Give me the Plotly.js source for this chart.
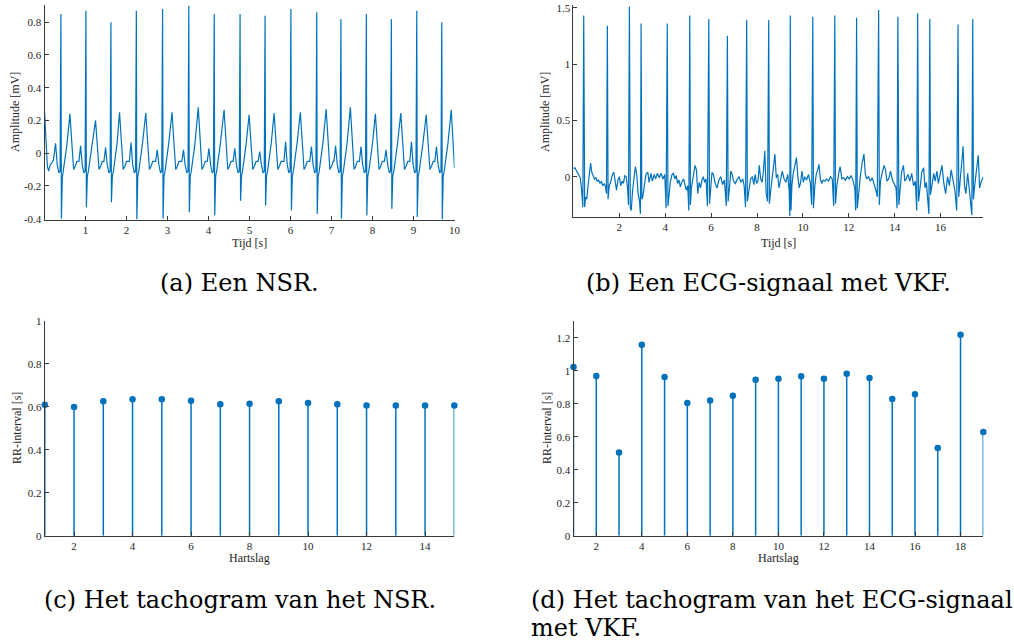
<!DOCTYPE html>
<html>
<head>
<meta charset="utf-8">
<script src="https://cdn.plot.ly/plotly-3.0.1.min.js"></script>
<style>
  html, body { margin: 0; padding: 0; background: #ffffff; }
  #fig { width: 1014px; height: 644px; }
</style>
</head>
<body>
<div id="fig"></div>
<script>
// Normaal sinusritme: [tijd (s), amplitude (mV)]
const nsrSamples = [
  [0.00,0.26],[0.03,0.12],[0.07,-0.08],[0.10,-0.11],[0.14,-0.07],[0.18,-0.06],[0.22,-0.04],[0.27,0.06],[0.31,-0.07],[0.35,-0.12],[0.38,-0.11],
  [0.40,0.85],[0.412,-0.40],[0.435,-0.15],[0.46,-0.11],[0.50,-0.05],[0.55,0.06],[0.62,0.24],[0.66,0.07],[0.71,-0.10],[0.75,-0.08],[0.79,-0.05],
  [0.84,-0.05],[0.88,0.045],[0.92,-0.07],[0.96,-0.12],[0.99,-0.11],[1.01,0.87],[1.022,-0.33],[1.045,-0.14],[1.07,-0.11],[1.11,-0.04],[1.16,0.05],[1.245,0.20],[1.285,0.06],[1.33,-0.10],[1.37,-0.08],[1.41,-0.05],
  [1.45,-0.05],[1.49,0.035],[1.53,-0.07],[1.57,-0.12],[1.60,-0.11],[1.62,0.80],[1.632,-0.30],[1.655,-0.14],[1.68,-0.11],[1.72,-0.04],[1.77,0.06],[1.83,0.25],[1.87,0.07],[1.92,-0.10],[1.96,-0.08],[2.00,-0.05],
  [2.07,-0.05],[2.11,0.065],[2.15,-0.07],[2.19,-0.12],[2.22,-0.11],[2.24,0.87],[2.252,-0.405],[2.275,-0.14],[2.30,-0.11],[2.34,-0.04],[2.39,0.06],[2.47,0.245],[2.51,0.07],[2.56,-0.10],[2.60,-0.08],[2.64,-0.05],
  [2.71,-0.05],[2.75,0.02],[2.79,-0.07],[2.83,-0.12],[2.86,-0.11],[2.88,0.88],[2.892,-0.40],[2.915,-0.14],[2.94,-0.11],[2.98,-0.04],[3.03,0.06],[3.11,0.25],[3.15,0.07],[3.20,-0.10],[3.24,-0.08],[3.28,-0.05],
  [3.35,-0.05],[3.39,0.02],[3.43,-0.07],[3.47,-0.12],[3.50,-0.11],[3.52,0.90],[3.532,-0.36],[3.555,-0.14],[3.58,-0.11],[3.62,-0.04],[3.67,0.06],[3.75,0.28],[3.79,0.08],[3.84,-0.10],[3.88,-0.08],[3.92,-0.05],
  [3.97,-0.05],[4.01,0.03],[4.05,-0.07],[4.09,-0.12],[4.12,-0.11],[4.14,0.85],[4.152,-0.38],[4.175,-0.14],[4.20,-0.11],[4.24,-0.04],[4.29,0.06],[4.38,0.265],[4.42,0.08],[4.47,-0.10],[4.51,-0.08],[4.55,-0.05],
  [4.60,-0.05],[4.64,0.03],[4.68,-0.07],[4.72,-0.12],[4.75,-0.11],[4.77,0.85],[4.782,-0.29],[4.805,-0.14],[4.83,-0.11],[4.87,-0.04],[4.92,0.06],[4.99,0.235],[5.03,0.07],[5.08,-0.10],[5.12,-0.08],[5.16,-0.05],
  [5.21,-0.05],[5.25,0.01],[5.29,-0.07],[5.33,-0.12],[5.36,-0.11],[5.38,0.84],[5.392,-0.32],[5.415,-0.14],[5.44,-0.11],[5.48,-0.04],[5.53,0.06],[5.60,0.245],[5.64,0.07],[5.69,-0.10],[5.73,-0.08],[5.77,-0.05],
  [5.84,-0.05],[5.88,0.07],[5.92,-0.07],[5.96,-0.12],[5.99,-0.11],[6.01,0.88],[6.022,-0.35],[6.045,-0.14],[6.07,-0.11],[6.11,-0.04],[6.16,0.06],[6.24,0.25],[6.28,0.07],[6.33,-0.10],[6.37,-0.08],[6.41,-0.05],
  [6.47,-0.05],[6.51,0.04],[6.55,-0.07],[6.59,-0.12],[6.62,-0.11],[6.64,0.86],[6.652,-0.37],[6.675,-0.14],[6.70,-0.11],[6.74,-0.04],[6.79,0.06],[6.87,0.27],[6.91,0.08],[6.96,-0.10],[7.00,-0.08],[7.04,-0.05],
  [7.06,-0.05],[7.10,0.045],[7.14,-0.07],[7.18,-0.12],[7.21,-0.11],[7.23,0.82],[7.242,-0.40],[7.265,-0.14],[7.29,-0.11],[7.33,-0.04],[7.38,0.06],[7.46,0.28],[7.50,0.08],[7.55,-0.10],[7.59,-0.08],[7.63,-0.05],
  [7.68,-0.05],[7.72,0.04],[7.76,-0.07],[7.80,-0.12],[7.83,-0.11],[7.85,0.85],[7.862,-0.38],[7.885,-0.14],[7.91,-0.11],[7.95,-0.04],[8.00,0.06],[8.07,0.24],[8.11,0.07],[8.16,-0.10],[8.20,-0.08],[8.24,-0.05],
  [8.29,-0.05],[8.33,0.02],[8.37,-0.07],[8.41,-0.12],[8.44,-0.11],[8.46,0.82],[8.472,-0.34],[8.495,-0.14],[8.52,-0.11],[8.56,-0.04],[8.61,0.06],[8.69,0.245],[8.73,0.07],[8.78,-0.10],[8.82,-0.08],[8.86,-0.05],
  [8.91,-0.05],[8.95,0.07],[8.99,-0.07],[9.03,-0.12],[9.06,-0.11],[9.08,0.87],[9.092,-0.39],[9.115,-0.14],[9.14,-0.11],[9.18,-0.04],[9.23,0.06],[9.31,0.235],[9.35,0.07],[9.40,-0.10],[9.44,-0.08],[9.48,-0.05],
  [9.52,-0.05],[9.56,0.04],[9.60,-0.07],[9.64,-0.12],[9.67,-0.11],[9.69,0.80],[9.702,-0.405],[9.725,-0.14],[9.75,-0.11],[9.79,-0.04],[9.84,0.06],[9.92,0.265],[9.96,0.08],[10.00,-0.09]
];

// ECG met ventrikelfibrillatie: [tijd (s), amplitude (mV)]
const vkfSamples = [
  [0.00,0.07],[0.06,0.08],[0.14,0.05],[0.22,0.02],[0.30,-0.01],[0.36,-0.12],[0.41,-0.27],[0.45,1.43],[0.49,-0.27],[0.53,-0.18],[0.58,-0.20],[0.64,-0.08],[0.70,0.06],[0.75,0.12],[0.80,0.04],[0.86,0.00],[0.92,-0.02],[0.98,-0.01],
  [1.04,-0.04],[1.10,-0.03],[1.16,-0.06],[1.22,-0.04],[1.28,-0.08],[1.34,-0.06],[1.40,-0.09],[1.44,-0.15],[1.48,1.34],[1.51,-0.20],[1.56,-0.08],[1.62,-0.05],[1.70,0.02],[1.76,0.04],[1.82,-0.04],[1.88,-0.12],[1.94,-0.03],
  [2.00,0.00],[2.06,-0.08],[2.12,-0.04],[2.18,-0.06],[2.24,0.01],[2.30,0.00],[2.36,-0.10],[2.40,-0.25],[2.44,1.51],[2.48,-0.28],[2.52,-0.30],[2.58,-0.12],[2.64,-0.02],[2.70,0.09],[2.76,0.02],[2.82,-0.15],[2.88,-0.22],[2.92,-0.33],
  [2.95,1.36],[2.98,-0.20],[3.02,-0.18],[3.08,-0.08],[3.16,0.02],[3.24,0.04],[3.30,-0.05],[3.38,0.03],[3.44,-0.04],[3.52,0.02],[3.58,-0.02],[3.66,0.03],[3.74,-0.01],[3.82,0.03],[3.90,-0.02],[3.98,0.02],
  [4.04,-0.28],[4.09,1.36],[4.12,-0.26],[4.16,-0.18],[4.22,-0.05],[4.30,0.02],[4.36,0.03],[4.42,-0.02],[4.48,0.01],[4.54,-0.06],[4.60,-0.03],[4.66,-0.09],[4.72,-0.05],[4.80,-0.02],[4.86,-0.07],[4.92,-0.12],[4.98,-0.08],
  [5.03,-0.30],[5.07,1.43],[5.10,-0.25],[5.14,-0.10],[5.22,0.02],[5.30,0.10],[5.36,0.06],[5.42,-0.15],[5.48,-0.05],[5.54,-0.10],[5.60,-0.03],[5.66,0.00],[5.72,-0.05],[5.78,-0.02],
  [5.84,-0.26],[5.90,1.40],[5.93,-0.24],[5.98,-0.08],[6.04,0.04],[6.10,0.02],[6.18,-0.06],[6.26,-0.10],[6.34,-0.03],[6.42,0.00],[6.50,-0.07],[6.58,-0.03],
  [6.66,-0.26],[6.71,1.25],[6.74,-0.22],[6.80,-0.10],[6.86,0.05],[6.92,0.02],[6.98,-0.04],[7.06,-0.06],[7.14,-0.02],[7.22,0.00],[7.30,-0.05],[7.38,-0.02],[7.44,-0.08],
  [7.50,-0.27],[7.55,1.39],[7.58,-0.22],[7.64,-0.12],[7.72,-0.02],[7.80,0.00],[7.86,-0.07],[7.92,0.02],[7.98,-0.06],[8.04,-0.04],[8.10,0.10],[8.16,-0.02],[8.22,-0.05],[8.28,0.05],[8.34,0.23],[8.40,-0.15],[8.46,-0.22],
  [8.51,1.39],[8.54,-0.24],[8.60,-0.12],[8.66,0.00],[8.72,0.12],[8.78,0.20],[8.84,-0.01],[8.90,0.02],[8.96,-0.10],[9.02,-0.03],[9.10,0.05],[9.18,-0.02],[9.26,-0.05],[9.34,0.02],[9.40,-0.12],[9.43,-0.35],
  [9.45,1.43],[9.48,-0.30],[9.52,-0.08],[9.58,0.03],[9.66,0.10],[9.72,0.17],[9.78,0.00],[9.84,-0.10],[9.90,-0.05],[9.96,0.05],[10.02,-0.05],[10.08,0.00],[10.16,-0.03],[10.24,0.02],[10.32,-0.05],[10.38,-0.25],
  [10.43,1.42],[10.46,-0.28],[10.52,-0.08],[10.58,0.02],[10.64,0.06],[10.70,0.11],[10.76,-0.02],[10.82,-0.06],[10.88,-0.03],[10.96,-0.04],[11.04,-0.02],[11.12,-0.04],[11.20,0.00],[11.28,-0.02],[11.34,-0.26],
  [11.39,1.43],[11.42,-0.24],[11.48,-0.08],[11.56,0.03],[11.62,0.09],[11.70,-0.02],[11.78,-0.01],[11.86,-0.03],[11.94,0.00],[12.02,-0.02],[12.10,0.01],[12.18,-0.03],[12.26,-0.10],[12.30,-0.30],
  [12.34,1.41],[12.37,-0.28],[12.42,-0.14],[12.50,0.00],[12.58,0.12],[12.66,0.20],[12.72,0.02],[12.78,-0.02],[12.86,0.00],[12.94,-0.04],[13.02,-0.01],[13.10,-0.06],[13.18,-0.12],[13.24,-0.18],
  [13.30,1.48],[13.33,-0.25],[13.38,-0.04],[13.46,0.04],[13.54,0.10],[13.60,0.06],[13.66,-0.04],[13.74,-0.02],[13.82,0.05],[13.90,-0.03],[13.98,-0.06],[14.06,-0.10],[14.10,-0.28],
  [14.14,1.42],[14.18,-0.25],[14.24,-0.06],[14.30,0.04],[14.38,0.10],[14.44,-0.04],[14.50,-0.02],[14.58,0.02],[14.66,-0.04],[14.74,0.03],[14.82,-0.08],[14.90,-0.04],[14.96,-0.30],
  [15.00,1.45],[15.04,-0.22],[15.10,-0.10],[15.18,0.04],[15.26,0.08],[15.32,-0.10],[15.38,-0.05],[15.44,-0.20],[15.49,-0.33],
  [15.53,1.40],[15.56,-0.16],[15.62,-0.08],[15.70,0.03],[15.76,-0.04],[15.84,0.05],[15.90,-0.06],[15.98,0.02],[16.06,0.10],[16.14,-0.06],[16.22,-0.15],[16.30,0.00],[16.38,-0.08],[16.46,0.06],[16.54,-0.03],[16.62,-0.12],[16.70,-0.30],
  [16.76,1.35],[16.79,-0.18],[16.84,-0.06],[16.92,0.12],[16.98,0.27],[17.04,-0.08],[17.10,-0.15],[17.18,0.03],[17.26,-0.12],[17.32,-0.28],[17.36,-0.34],
  [17.40,1.40],[17.43,-0.20],[17.50,-0.05],[17.58,0.10],[17.64,0.19],[17.70,-0.10],[17.76,-0.05],[17.86,0.00]
];

// Tachogrammen: RR-interval (s) per hartslag
const nsrBeats = [1,2,3,4,5,6,7,8,9,10,11,12,13,14,15];
const nsrRR = [0.610,0.599,0.626,0.635,0.635,0.629,0.612,0.615,0.626,0.618,0.612,0.607,0.607,0.607,0.607];
const vkfBeats = [1,2,3,4,5,6,7,8,9,10,11,12,13,14,15,16,17,18,19];
const vkfRR = [1.022,0.968,0.505,1.158,0.962,0.804,0.820,0.848,0.945,0.951,0.966,0.951,0.982,0.956,0.828,0.857,0.531,1.218,0.628];

// Asverdeling en labels
const ticksA_x = [1,2,3,4,5,6,7,8,9,10];
const ticksA_y = [-0.4,-0.2,0,0.2,0.4,0.6,0.8];
const labelsA_y = ['-0.4','-0.2','0','0.2','0.4','0.6','0.8'];
const ticksB_x = [2,4,6,8,10,12,14,16];
const ticksB_y = [0,0.5,1,1.5];
const labelsB_y = ['0','0.5','1','1.5'];
const ticksC_x = [2,4,6,8,10,12,14];
const ticksC_y = [0,0.2,0.4,0.6,0.8,1];
const labelsC_y = ['0','0.2','0.4','0.6','0.8','1'];
const ticksD_x = [2,4,6,8,10,12,14,16,18];
const ticksD_y = [0,0.2,0.4,0.6,0.8,1,1.2];
const labelsD_y = ['0','0.2','0.4','0.6','0.8','1','1.2'];

const captions = ['(a) Een NSR.', '(b) Een ECG-signaal met VKF.', '(c) Het tachogram van het NSR.', '(d) Het tachogram van het ECG-signaal', 'met VKF.'];

const W = 1014, H = 644;
const blue = '#0072BD';
const axisColor = '#3a3a3a';
const tickFont = { family: 'Liberation Serif, serif', size: 11, color: '#262626' };
const titleFont = { family: 'Liberation Serif, serif', size: 12, color: '#262626' };
const capFont = { family: 'DejaVu Serif, serif', size: 24, color: '#000000' };

const px = v => v / W;
const py = v => 1 - v / H;

function axis(domainPx, vals, text, range, anchor) {
  const a = {
    domain: domainPx,
    range: range,
    tickvals: vals,
    ticks: 'inside',
    ticklen: 4,
    tickwidth: 1,
    tickcolor: axisColor,
    showline: true,
    linecolor: axisColor,
    linewidth: 1,
    showgrid: false,
    zeroline: false,
    tickfont: tickFont,
    anchor: anchor,
    fixedrange: true
  };
  if (text) { a.tickmode = 'array'; a.ticktext = text; }
  return a;
}

// Stelen: verticale lijn van 0 tot de waarde voor elke hartslag
function stems(beats, rr, xa, ya) {
  const sx = [], sy = [];
  beats.forEach((b, i) => { sx.push(b, b, null); sy.push(0, rr[i], null); });
  return [
    { x: sx, y: sy, xaxis: xa, yaxis: ya, type: 'scatter', mode: 'lines', line: { color: blue, width: 1.5 }, cliponaxis: false, hoverinfo: 'skip' },
    { x: beats, y: rr, xaxis: xa, yaxis: ya, type: 'scatter', mode: 'markers', marker: { color: blue, size: 6.5 }, cliponaxis: false, hoverinfo: 'skip' }
  ];
}

const traces = [
  { x: nsrSamples.map(p => p[0]), y: nsrSamples.map(p => p[1]), xaxis: 'x', yaxis: 'y', type: 'scatter', mode: 'lines', line: { color: blue, width: 1.2 } },
  { x: vkfSamples.map(p => p[0]), y: vkfSamples.map(p => p[1]), xaxis: 'x2', yaxis: 'y2', type: 'scatter', mode: 'lines', line: { color: blue, width: 1.2 } },
  ...stems(nsrBeats, nsrRR, 'x3', 'y3'),
  ...stems(vkfBeats, vkfRR, 'x4', 'y4')
];

const layout = {
  width: W, height: H,
  margin: { l: 0, r: 0, t: 0, b: 0 },
  paper_bgcolor: '#ffffff', plot_bgcolor: '#ffffff',
  showlegend: false,
  xaxis:  axis([px(44.5), px(454.5)], ticksA_x, null, [0, 10], 'y'),
  yaxis:  axis([py(219.5), py(5)], ticksA_y, labelsA_y, [-0.405, 0.905], 'x'),
  xaxis2: axis([px(573.4), px(983.3)], ticksB_x, null, [0, 17.86], 'y2'),
  yaxis2: axis([py(216.7), py(5.4)], ticksB_y, labelsB_y, [-0.355, 1.52], 'x2'),
  xaxis3: axis([px(44.8), px(454.3)], ticksC_x, null, [1, 15], 'y3'),
  yaxis3: axis([py(535.7), py(321)], ticksC_y, labelsC_y, [0, 1], 'x3'),
  xaxis4: axis([px(573.5), px(983.3)], ticksD_x, null, [1, 19], 'y4'),
  yaxis4: axis([py(535.7), py(321.2)], ticksD_y, labelsD_y, [0, 1.3], 'x4'),
  annotations: [
    { text: 'Amplitude [mV]', x: px(15), y: py(112), textangle: -90 },
    { text: 'Tijd [s]', x: px(249.5), y: py(243) },
    { text: 'Amplitude [mV]', x: px(545), y: py(112), textangle: -90 },
    { text: 'Tijd [s]', x: px(778), y: py(243) },
    { text: 'RR-interval [s]', x: px(17), y: py(428), textangle: -90 },
    { text: 'Hartslag', x: px(249.5), y: py(558) },
    { text: 'RR-interval [s]', x: px(547), y: py(428), textangle: -90 },
    { text: 'Hartslag', x: px(778), y: py(558) }
  ].map(a => Object.assign({ xref: 'paper', yref: 'paper', showarrow: false, font: titleFont, xanchor: 'center', yanchor: 'middle' }, a))
   .concat([
    { text: captions[0], x: px(239.5), y: py(283), xanchor: 'center' },
    { text: captions[1], x: px(768), y: py(283), xanchor: 'center' },
    { text: captions[2], x: px(240), y: py(600), xanchor: 'center' },
    { text: captions[3], x: px(529), y: py(600), xanchor: 'left' },
    { text: captions[4], x: px(529), y: py(628), xanchor: 'left' }
  ].map(a => Object.assign({ xref: 'paper', yref: 'paper', showarrow: false, font: capFont, yanchor: 'middle' }, a)))
};

Plotly.newPlot('fig', traces, layout, { staticPlot: true, displayModeBar: false });
</script>
</body>
</html>
